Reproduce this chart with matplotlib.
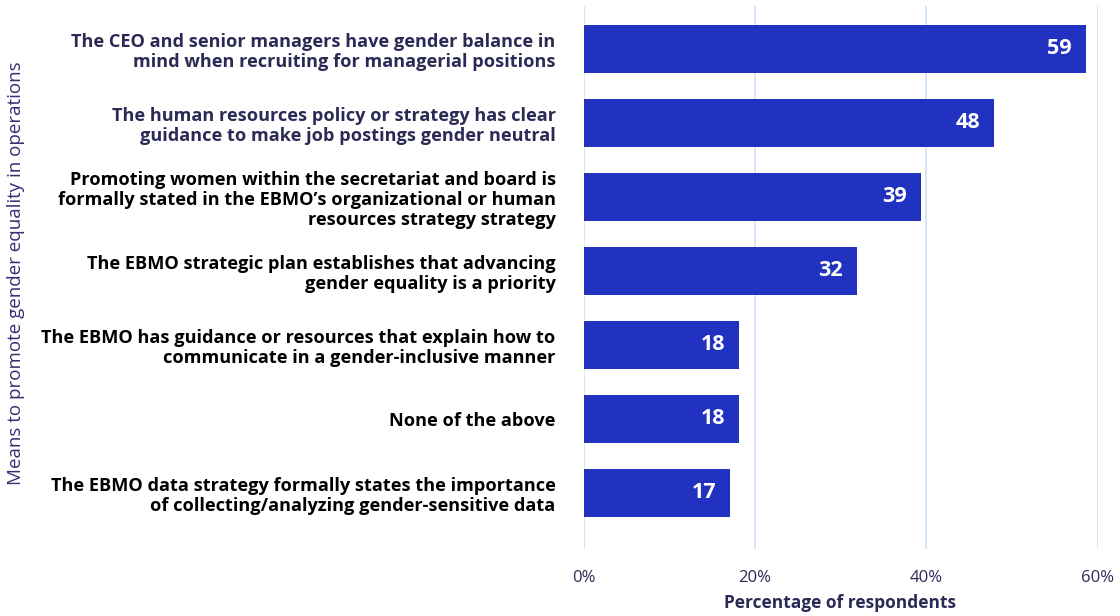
import matplotlib.pyplot as plt

plt.rcParams['font.family'] = ['Open Sans', 'DejaVu Sans']

labels = [
    "The CEO and senior managers have gender balance in\nmind when recruiting for managerial positions",
    "The human resources policy or strategy has clear\nguidance to make job postings gender neutral",
    "Promoting women within the secretariat and board is\nformally stated in the EBMO\u2019s organizational or human\nresources strategy strategy",
    "The EBMO strategic plan establishes that advancing\ngender equality is a priority",
    "The EBMO has guidance or resources that explain how to\ncommunicate in a gender-inclusive manner",
    "None of the above",
    "The EBMO data strategy formally states the importance\nof collecting/analyzing gender-sensitive data",
]
values = [58.6, 47.9, 39.4, 31.9, 18.1, 18.1, 17.1]
label_colors = ['#2b2a55', '#2b2a55', 'black', 'black', 'black', 'black', 'black']
xticks = [0, 20, 40, 60]

bar_color = '#2131c0'
navy = '#2b2a55'

fig = plt.figure(figsize=(11.2, 6.16), dpi=100)
ax = fig.add_axes([583.5 / 1120, 1 - 549 / 616, 514 / 1120, 543 / 616])

y = list(range(len(values)))
ax.barh(y, values, height=0.65, color=bar_color, zorder=3)
for yi, v in zip(y, values):
    ax.text(v - 1.6, yi, f"{v:.0f}", ha='right', va='center', color='white',
            fontsize=15.5, fontweight='bold', zorder=4)

ax.set_xlim(0, 60)
ax.set_ylim(6.757, -0.581)
ax.set_xticks(xticks)
ax.set_xticklabels([f"{t}%" for t in xticks], color=navy, fontsize=12)
ax.set_yticks(y)
ax.set_yticklabels(labels, fontsize=13.1, fontweight='bold', ha='right',
                   linespacing=1.16)
for t, c in zip(ax.get_yticklabels(), label_colors):
    t.set_color(c)
ax.tick_params(axis='both', length=0)
ax.tick_params(axis='x', pad=15)
ax.tick_params(axis='y', pad=20)
ax.grid(axis='x', color='#d3e4f7', linewidth=1.3, zorder=0)
for s in ax.spines.values():
    s.set_visible(False)

ax.set_xlabel("Percentage of respondents", fontsize=12.5, fontweight='bold',
              color=navy, labelpad=6)
fig.text(16 / 1120, 1 - 273 / 616, "Means to promote gender equality in operations",
         rotation=90, ha='center', va='center', fontsize=13.5, color='#3d2a73')

fig.savefig('out.png', dpi=100)
